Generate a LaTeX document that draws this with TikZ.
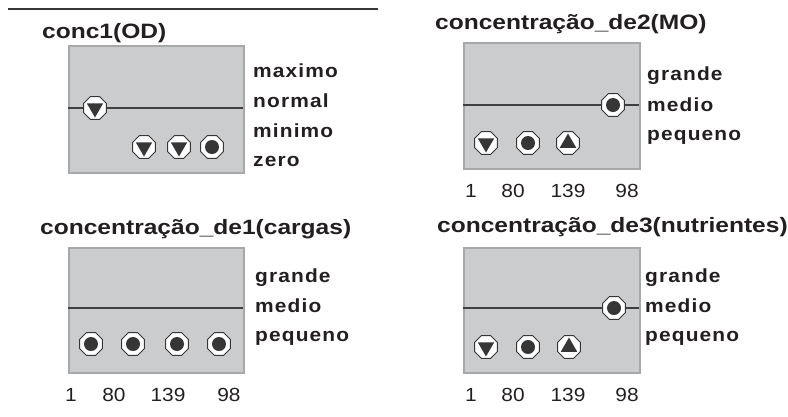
\documentclass[tikz,border=0pt]{standalone}
\usepackage{fontspec}
\setmainfont{Liberation Sans}[FakeStretch=1.18]
\newfontfamily\lblfont{Liberation Sans}[FakeStretch=1.1, LetterSpace=6]
\newfontfamily\numfont{Liberation Sans}[FakeStretch=1.1]
\usetikzlibrary{shapes.geometric}
\definecolor{txt}{HTML}{231F20}
\definecolor{panelfill}{HTML}{CBCCCE}
\definecolor{paneledge}{HTML}{A7A8AA}
\definecolor{levelline}{HTML}{3F3F3F}
\definecolor{ink}{HTML}{363636}
\tikzset{
  panel/.style={fill=panelfill, draw=paneledge, line width=1.8pt},
  level/.style={draw=levelline, line width=2pt},
  title/.style={anchor=base west, inner sep=0pt, text=txt, font=\fontsize{20.8}{24}\selectfont\bfseries},
  state/.style={anchor=base west, inner sep=0pt, text=txt, font=\fontsize{19}{22}\lblfont\bfseries},
  count/.style={anchor=base, inner sep=0pt, text=txt, font=\fontsize{19}{22}\numfont},
  octa/.style={regular polygon, regular polygon sides=8, minimum size=24.5pt, inner sep=0pt,
    fill=white, draw=ink, line width=1pt},
  dotin/.style={circle, minimum size=14pt, inner sep=0pt, fill=ink},
  tridown/.style={regular polygon, regular polygon sides=3, shape border rotate=180,
    minimum size=19pt, inner sep=0pt, fill=ink},
  triup/.style={regular polygon, regular polygon sides=3,
    minimum size=19pt, inner sep=0pt, fill=ink},
}
% one gauge marker: octagonal button with an inner symbol
\newcommand\gauge[3]{%
  \node[octa] (#1) at (#2) {};
  \node[#3] (#1-in) at (#1.center) {};}
\begin{document}
\begin{tikzpicture}[x=1pt, y=-1pt]
\useasboundingbox (0,0) rectangle (788,416);

% rule above the first panel
\coordinate (ruleL) at (8,9);
\coordinate (ruleR) at (378,9);
\draw[draw=ink, line width=2.4pt] (ruleL) -- (ruleR);

% ---- conc1(OD) ----
\node[title] (t1) at (42,38) {conc1(OD)};
\node[panel, anchor=north west, minimum width=175pt, minimum height=127pt, inner sep=0pt] (p1) at (68,45) {};
\coordinate (p1l) at (68,108);
\coordinate (p1r) at (243,108);
\draw[level] (p1l) -- (p1r);
\gauge{a0}{95,108}{tridown}
\gauge{a1}{144,147}{tridown}
\gauge{a2}{179,147}{tridown}
\gauge{a3}{212,147}{dotin}
\node[state] (a-max) at (253,77) {maximo};
\node[state] (a-nor) at (253,107) {normal};
\node[state] (a-min) at (253,137) {minimo};
\node[state] (a-zer) at (253,166) {zero};

% ---- concentração_de2(MO) ----
\node[title] (t2) at (435,29) {concentração\_de2(MO)};
\node[panel, anchor=north west, minimum width=176pt, minimum height=126pt, inner sep=0pt] (p2) at (463,42) {};
\coordinate (p2l) at (463,105);
\coordinate (p2r) at (639,105);
\draw[level] (p2l) -- (p2r);
\gauge{b0}{613,105}{dotin}
\gauge{b1}{486,143}{tridown}
\gauge{b2}{528,143}{dotin}
\gauge{b3}{568,143}{triup}
\node[state] (b-gr) at (647,80) {grande};
\node[state] (b-me) at (647,111) {medio};
\node[state] (b-pe) at (647,140) {pequeno};
\node[count] (b-n1) at (471,197) {1};
\node[count] (b-n2) at (513,197) {80};
\node[count] (b-n3) at (568,197) {139};
\node[count] (b-n4) at (627,197) {98};

% ---- concentração_de1(cargas) ----
\node[title] (t3) at (40,234) {concentração\_de1(cargas)};
\node[panel, anchor=north west, minimum width=175pt, minimum height=125pt, inner sep=0pt] (p3) at (68,247) {};
\coordinate (p3l) at (68,308);
\coordinate (p3r) at (243,308);
\draw[level] (p3l) -- (p3r);
\gauge{c1}{91,344}{dotin}
\gauge{c2}{133,344}{dotin}
\gauge{c3}{177,344}{dotin}
\gauge{c4}{219,344}{dotin}
\node[state] (c-gr) at (255,282) {grande};
\node[state] (c-me) at (255,312) {medio};
\node[state] (c-pe) at (255,341) {pequeno};
\node[count] (c-n1) at (71,401) {1};
\node[count] (c-n2) at (114,401) {80};
\node[count] (c-n3) at (168,401) {139};
\node[count] (c-n4) at (229,401) {98};

% ---- concentração_de3(nutrientes) ----
\node[title] (t4) at (437,232) {concentração\_de3(nutrientes)};
\node[panel, anchor=north west, minimum width=176pt, minimum height=125pt, inner sep=0pt] (p4) at (463,247) {};
\coordinate (p4l) at (463,308);
\coordinate (p4r) at (639,308);
\draw[level] (p4l) -- (p4r);
\gauge{d0}{614,308}{dotin}
\gauge{d1}{486,347}{tridown}
\gauge{d2}{528,347}{dotin}
\gauge{d3}{569,347}{triup}
\node[state] (d-gr) at (645,282) {grande};
\node[state] (d-me) at (645,312) {medio};
\node[state] (d-pe) at (645,341) {pequeno};
\node[count] (d-n1) at (471,401) {1};
\node[count] (d-n2) at (513,401) {80};
\node[count] (d-n3) at (568,401) {139};
\node[count] (d-n4) at (627,401) {98};
\end{tikzpicture}
\end{document}
